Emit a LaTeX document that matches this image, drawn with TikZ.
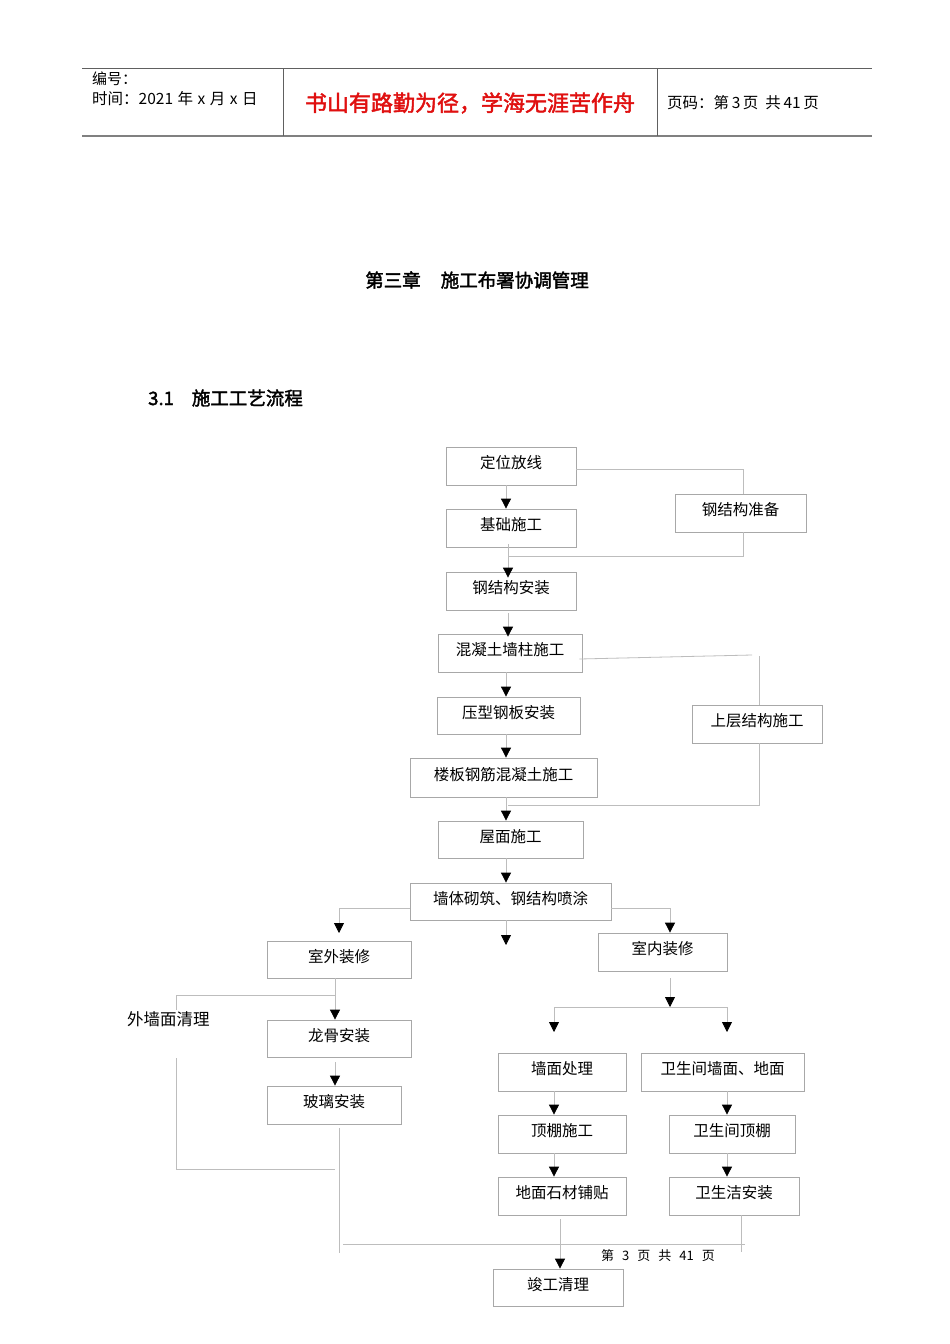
\documentclass[tikz,border=0pt]{standalone}
\usepackage{fontspec}
\setmainfont{Noto Sans CJK SC}
\newfontfamily\cjkb[FakeBold=2]{Noto Sans CJK SC}
\usetikzlibrary{arrows.meta}
\definecolor{boxgray}{HTML}{A8A8A8}
\definecolor{linegray}{HTML}{BDBDBD}
\definecolor{hdrgray}{HTML}{606060}
\definecolor{mottored}{HTML}{E01010}
\newcommand\flowbox[6]{\node[box,minimum width=#4pt,minimum height=#5pt] (#1) at (#2,#3) {#6};}
\begin{document}
\begin{tikzpicture}[x=1pt,y=-1pt,
  box/.style={draw=boxgray,line width=0.8pt,inner sep=0pt,text height=10pt,text depth=4.8pt,
    font=\fontsize{15.5}{18}\selectfont},
  conn/.style={draw=linegray,line width=0.8pt},
  arr/.style={conn,-{Triangle[width=10pt,length=10pt,color=black]}},
  hdr/.style={draw=hdrgray,line width=0.8pt},
  plain/.style={inner sep=0pt}]
\useasboundingbox (0,0) rectangle (950,1344);
\fill[white] (0,0) rectangle (950,1344);

% header
\draw[hdr] (82,68) -- (872,68);
\draw[draw=gray,line width=1.8pt] (82,136) -- (872,136);
\draw[hdr] (283,68) -- (283,136);
\draw[hdr] (657,68) -- (657,136);
\node[plain,anchor=west,font=\fontsize{15}{18}\selectfont] (hno) at (92,79) {编号：};
\node[plain,anchor=west,font=\fontsize{15.5}{18}\selectfont] (htime) at (92,99) {时间：2021\hspace{4.5pt}年\hspace{4.5pt}x\hspace{4.5pt}月\hspace{4.5pt}x\hspace{4.5pt}日};
\node[plain,font=\cjkb\fontsize{22}{26}\selectfont,text=mottored] (motto) at (470,103) {书山有路勤为径，学海无涯苦作舟};
\node[plain,anchor=west,font=\fontsize{15.5}{18}\selectfont] (hpage) at (667,103) {页码：第\,3\,页\ \ 共\,41\,页};

% titles
\node[plain,font=\cjkb\fontsize{18.5}{22}\selectfont] (title) at (477,280) {第三章\hspace{20pt}施工布署协调管理};
\node[plain,anchor=west,font=\cjkb\fontsize{18.5}{22}\selectfont] (sec) at (148,398) {3.1\hspace{18pt}施工工艺流程};

% boxes
\flowbox{dw}{511}{466}{130}{38}{定位放线}
\flowbox{jc}{511}{528}{130}{38}{基础施工}
\flowbox{gzb}{740.5}{513}{131}{38}{钢结构准备}
\flowbox{gaz}{511}{591}{130}{38}{钢结构安装}
\flowbox{hnt}{510}{653}{144}{38}{混凝土墙柱施工}
\flowbox{yx}{508.5}{715.5}{143}{37}{压型钢板安装}
\flowbox{lb}{503.5}{777.5}{187}{39}{楼板钢筋混凝土施工}
\flowbox{sc}{757}{724}{130}{38}{上层结构施工}
\flowbox{wm}{510.5}{839.5}{145}{37}{屋面施工}
\flowbox{qt}{510.5}{901.5}{201}{37}{墙体砌筑、钢结构喷涂}
\flowbox{sw}{339}{959.5}{144}{37}{室外装修}
\flowbox{sn}{662.5}{952}{129}{38}{室内装修}
\flowbox{lg}{339}{1038.5}{144}{37}{龙骨安装}
\flowbox{bl}{334}{1105}{134}{38}{玻璃安装}
\flowbox{qm}{562}{1072}{128}{38}{墙面处理}
\flowbox{ws}{722.5}{1072}{163}{38}{卫生间墙面、地面}
\flowbox{dp}{562}{1134}{128}{38}{顶棚施工}
\flowbox{wd}{732}{1134}{126}{38}{卫生间顶棚}
\flowbox{ds}{562}{1196}{128}{38}{地面石材铺贴}
\flowbox{wj}{734}{1196}{130}{38}{卫生洁安装}
\flowbox{jg}{558}{1287.5}{130}{37}{竣工清理}

\node[plain,anchor=west,font=\fontsize{16.5}{20}\selectfont] (wq) at (127,1019) {外墙面清理};
\node[plain,font=\fontsize{13}{16}\selectfont] (foot) at (658,1256) {第\hspace{8pt}3\hspace{8pt}页\hspace{8pt}共\hspace{8pt}41\hspace{8pt}页};

% coordinates for free ends
\coordinate (j1) at (508,556);
\coordinate (k1) at (752,655);
\coordinate (k2) at (759,656);
\coordinate (k3) at (508,805);
\coordinate (a1) at (339,933);
\coordinate (a2) at (506,945);
\coordinate (b1) at (335,995);
\coordinate (b2) at (176,1010);
\coordinate (b3) at (176,1058);
\coordinate (b4) at (335,1169);
\coordinate (c1) at (339,1253);
\coordinate (c2) at (343,1244);
\coordinate (c3) at (745,1244);
\coordinate (c4) at (741,1252);
\coordinate (d1) at (670,1007);
\coordinate (d2) at (554,1032);
\coordinate (d3) at (727,1032);

% connectors
\draw[arr] ([xshift=-5pt]dw.south) -- ([xshift=-5pt]jc.north);
\draw[conn] ([yshift=-3pt]dw.east) -| ([xshift=2.5pt]gzb.north);
\draw[conn] ([xshift=2.5pt]gzb.south) |- (j1);
\draw[arr] ([xshift=-3pt,yshift=3pt]jc.south) -- ([xshift=-3pt,yshift=-6pt]gaz.north);
\draw[arr] ([xshift=-3pt,yshift=-3pt]gaz.south) -- ([xshift=-2pt,yshift=-3pt]hnt.north);
\draw[conn] ([xshift=-3pt,yshift=-6pt]hnt.east) -- (k1);
\draw[conn] (k2) -- ([xshift=2pt]sc.north);
\draw[conn] ([xshift=2pt]sc.south) |- (k3);
\draw[arr] ([xshift=-4pt]hnt.south) -- ([xshift=-2.5pt]yx.north);
\draw[arr] ([xshift=-2.5pt]yx.south) -- ([xshift=2.5pt]lb.north);
\draw[arr] ([xshift=2.5pt]lb.south) -- ([xshift=-4.5pt]wm.north);
\draw[arr] ([xshift=-4.5pt]wm.south) -- ([xshift=-4.5pt]qt.north);
\draw[arr] ([yshift=-6.5pt]qt.west) -| (a1);
\draw[arr] ([yshift=-6.5pt]qt.east) -| ([xshift=7.5pt]sn.north);
\draw[arr] ([xshift=-4.5pt]qt.south) -- (a2);
\draw[arr] ([xshift=-4pt]sw.south) -- ([xshift=-4pt]lg.north);
\draw[conn] (b1) -| (b2);
\draw[conn] (b3) |- (b4);
\draw[arr] ([xshift=-4pt,yshift=-5pt]lg.south) -- ([xshift=1pt]bl.north);
\draw[conn] ([xshift=5pt,yshift=-4pt]bl.south) -- (c1);
\draw[conn] (c2) -- (c3);
\draw[conn] ([xshift=7pt]wj.south) -- (c4);
\draw[arr] ([xshift=-2pt,yshift=-4pt]ds.south) -- ([xshift=2pt]jg.north);
\draw[arr] ([xshift=7.5pt,yshift=-7pt]sn.south) -- (d1);
\draw[arr] (d1) -| (d2);
\draw[arr] (d1) -| (d3);
\draw[arr] ([xshift=-8pt]qm.south) -- ([xshift=-8pt]dp.north);
\draw[arr] ([xshift=4.5pt]ws.south) -- ([xshift=-5pt]wd.north);
\draw[arr] ([xshift=-8pt]dp.south) -- ([xshift=-8pt]ds.north);
\draw[arr] ([xshift=-5pt]wd.south) -- ([xshift=-7pt]wj.north);
\end{tikzpicture}
\end{document}
